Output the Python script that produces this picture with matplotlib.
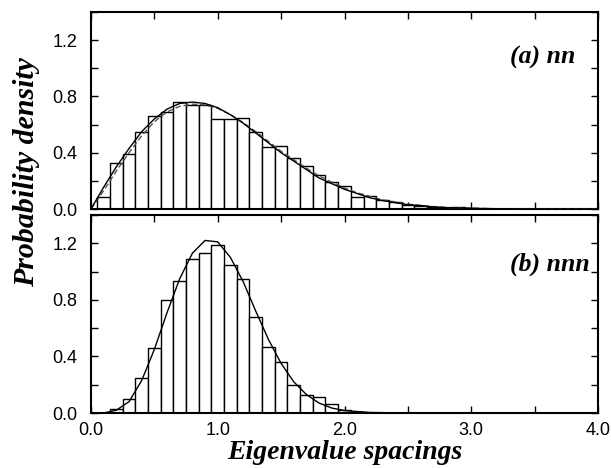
import matplotlib
matplotlib.use("Agg")
import matplotlib.pyplot as plt
from matplotlib.ticker import MultipleLocator, FormatStrFormatter

# ---- data ----
bin_centers_a = [0.1, 0.2, 0.3, 0.4, 0.5, 0.6, 0.7, 0.8, 0.9, 1.0, 1.1, 1.2, 1.3, 1.4,
                 1.5, 1.6, 1.7, 1.8, 1.9, 2.0, 2.1, 2.2, 2.3, 2.4, 2.5, 2.6, 2.7, 2.8,
                 2.9, 3.0]
hist_a = [0.088, 0.33, 0.39, 0.55, 0.66, 0.69, 0.76, 0.74, 0.74, 0.64, 0.64, 0.65, 0.55,
          0.44, 0.45, 0.36, 0.305, 0.24, 0.19, 0.16, 0.088, 0.09, 0.064, 0.05, 0.028,
          0.02, 0.012, 0.01, 0.016, 0.008]

curve_s = [0.0, 0.1, 0.2, 0.3, 0.4, 0.5, 0.6, 0.7, 0.8, 0.9, 1.0, 1.1, 1.2, 1.3, 1.4,
           1.5, 1.6, 1.7, 1.8, 1.9, 2.0, 2.1, 2.2, 2.3, 2.4, 2.5, 2.6, 2.7, 2.8, 2.9,
           3.0, 3.2, 3.5, 4.0]
solid_a = [0.0, 0.155, 0.30, 0.43, 0.55, 0.64, 0.71, 0.75, 0.76, 0.75, 0.72, 0.67, 0.61,
           0.54, 0.47, 0.40, 0.34, 0.28, 0.22, 0.18, 0.14, 0.11, 0.08, 0.06, 0.045,
           0.03, 0.025, 0.015, 0.01, 0.007, 0.005, 0.002, 0.0005, 0.0]
dashed_a = [0.0, 0.13, 0.27, 0.40, 0.52, 0.62, 0.69, 0.73, 0.745, 0.74, 0.715, 0.67,
            0.615, 0.55, 0.48, 0.41, 0.35, 0.29, 0.235, 0.19, 0.15, 0.115, 0.09, 0.065,
            0.05, 0.035, 0.025, 0.017, 0.012, 0.008, 0.005, 0.002, 0.001, 0.0]

bin_centers_b = [0.2, 0.3, 0.4, 0.5, 0.6, 0.7, 0.8, 0.9, 1.0, 1.1, 1.2, 1.3, 1.4, 1.5,
                 1.6, 1.7, 1.8, 1.9, 2.0, 2.1]
hist_b = [0.03, 0.10, 0.25, 0.46, 0.80, 0.93, 1.09, 1.13, 1.19, 1.05, 0.95, 0.68, 0.47,
          0.36, 0.20, 0.13, 0.11, 0.064, 0.02, 0.01]

curve_b_s = [0.0, 0.1, 0.2, 0.3, 0.4, 0.5, 0.6, 0.7, 0.8, 0.9, 1.0, 1.1, 1.2, 1.3, 1.4,
             1.5, 1.6, 1.7, 1.8, 1.9, 2.0, 2.2, 2.4, 2.6, 3.0, 4.0]
curve_b = [0.0, 0.0, 0.02, 0.08, 0.23, 0.45, 0.71, 0.95, 1.13, 1.22, 1.21, 1.10, 0.93,
           0.72, 0.52, 0.35, 0.22, 0.13, 0.07, 0.035, 0.017, 0.004, 0.001, 0.0, 0.0, 0.0]

bin_width = 0.1
xlabels = ["0.0", "1.0", "2.0", "3.0", "4.0"]

plt.rcParams['font.family'] = ['Liberation Sans', 'DejaVu Sans']

W, H = 611, 468
fig = plt.figure(figsize=(W / 100, H / 100), dpi=100)

def axes_px(x0, y0, x1, y1):
    return fig.add_axes([x0 / W, 1 - y1 / H, (x1 - x0) / W, (y1 - y0) / H])

ax1 = axes_px(91, 12, 598, 209)
ax2 = axes_px(91, 215, 598, 413)

serif_bi = dict(family='Liberation Serif', weight='bold', style='italic')

for ax in (ax1, ax2):
    ax.set_xlim(0, 4)
    ax.set_ylim(0, 1.4)
    ax.xaxis.set_major_locator(MultipleLocator(1.0))
    ax.xaxis.set_minor_locator(MultipleLocator(0.5))
    ax.yaxis.set_major_locator(MultipleLocator(0.4))
    ax.yaxis.set_minor_locator(MultipleLocator(0.2))
    ax.yaxis.set_major_formatter(FormatStrFormatter('%.1f'))
    ax.tick_params(which='both', direction='in', top=True, right=True,
                   labelsize=13, width=1.0, colors='black', length=5)
    ax.tick_params(axis='y', which='both', pad=10)
    ax.tick_params(axis='x', which='both', pad=6.5)
    for sp in ax.spines.values():
        sp.set_linewidth(1.5)

# panel (a)
ax1.bar(bin_centers_a, hist_a, width=bin_width, facecolor='white',
        edgecolor='black', linewidth=1.0, zorder=2)
ax1.plot(curve_s, dashed_a, color='#555555', lw=1.0, ls=(0, (4, 2)), zorder=3)
ax1.plot(curve_s, solid_a, color='black', lw=1.0, zorder=4)
ax1.tick_params(axis='x', labelbottom=False)
ax1.text(0.955, 0.77, '(a) nn', transform=ax1.transAxes, ha='right', va='center',
         fontsize=18.5, **serif_bi)

# panel (b)
ax2.bar(bin_centers_b, hist_b, width=bin_width, facecolor='white',
        edgecolor='black', linewidth=1.0, zorder=2)
ax2.plot(curve_b_s, curve_b, color='black', lw=1.0, zorder=4)
ax2.set_xticks([0, 1, 2, 3, 4])
ax2.set_xticklabels(xlabels)
ax2.text(0.984, 0.75, '(b) nnn', transform=ax2.transAxes, ha='right', va='center',
         fontsize=18.5, **serif_bi)
ax2.set_xlabel('Eigenvalue spacings', fontsize=20, labelpad=0.5, **serif_bi)

fig.text(0.044, (468 - 172) / H, 'Probability density', rotation=90, ha='center',
         va='center', fontsize=21.5, **serif_bi)

fig.savefig('out.png', dpi=100)
